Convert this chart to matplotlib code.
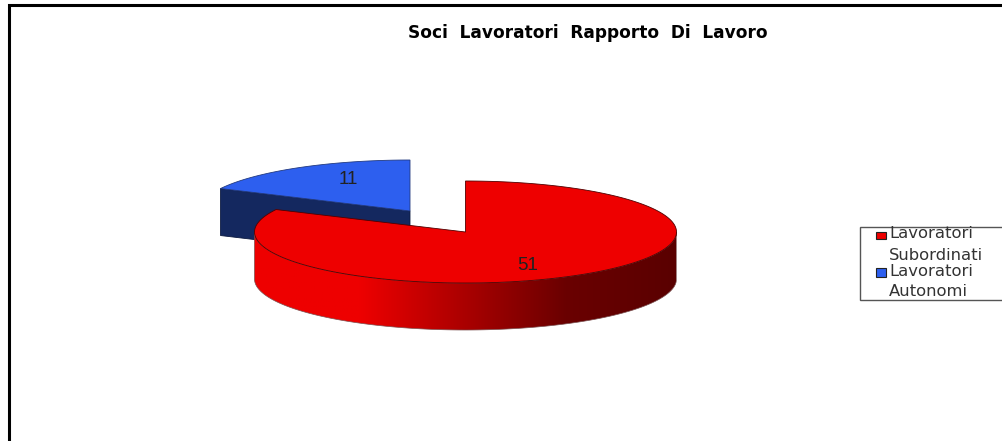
from matplotlib import pyplot as plt
from matplotlib.colors import LinearSegmentedColormap
from matplotlib.patches import Polygon, Rectangle
import numpy as np

categories = ['Lavoratori\nSubordinati', 'Lavoratori\nAutonomi']
values = [51, 11]
title = 'Soci  Lavoratori  Rapporto  Di  Lavoro'

RX, RY, DEPTH = 211, 51, 47
RED_CENTER = (465.5, 232)
BLUE_CENTER = (410, 211)


def rim(center, a0, a1, dy=0):
    # angles run clockwise from 12 o'clock, like the original chart
    t = np.radians(np.linspace(a0, a1, 200))
    return np.column_stack([center[0] + RX * np.sin(t), center[1] - RY * np.cos(t) + dy])


fig = plt.figure(figsize=(10.02, 4.41), dpi=100)
ax = fig.add_axes([0, 0, 1, 1])
ax.axis('off')

split = 360 * values[0] / sum(values)

# blue slice, pulled out to the upper left
tip = rim(BLUE_CENTER, split, split + 0.01)[0]
side = [tip, BLUE_CENTER, (BLUE_CENTER[0], BLUE_CENTER[1] + DEPTH), (tip[0], tip[1] + DEPTH)]
ax.add_patch(Polygon(side, closed=True, fc='#14285f', ec='#0c1a40', lw=0.6, zorder=1))
top = np.vstack([rim(BLUE_CENTER, split, 360), [BLUE_CENTER]])
ax.add_patch(Polygon(top, closed=True, fc='#2d5fef', ec='#223a80', lw=0.6, zorder=2))

# red slice: outer wall has a left to right gradient
front = rim(RED_CENTER, 90, 270)
wall = np.vstack([front, rim(RED_CENTER, 270, 90, DEPTH)])
wall_patch = Polygon(wall, closed=True, fc='none', ec='#7a5050', lw=0.5, zorder=4)
ax.add_patch(wall_patch)
cmap = LinearSegmentedColormap.from_list('wall', [(0, '#ee0000'), (0.25, '#ee0000'), (0.5, '#aa0000'),
                                                  (0.74, '#6a0000'), (1, '#5a0000')])
img = ax.imshow(np.linspace(0, 1, 256).reshape(1, -1), cmap=cmap, aspect='auto',
                extent=(RED_CENTER[0] - RX, RED_CENTER[0] + RX, 400, 200), zorder=3)
img.set_clip_path(wall_patch)
top = np.vstack([rim(RED_CENTER, 0, split), [RED_CENTER]])
ax.add_patch(Polygon(top, closed=True, fc='#ee0000', ec='#500000', lw=0.6, zorder=5))

ax.text(348, 179, str(values[1]), ha='center', va='center', fontsize=13.5, family='Liberation Sans', color='#222222', zorder=6)
ax.text(528, 265, str(values[0]), ha='center', va='center', fontsize=13.5, family='Liberation Sans', color='#222222', zorder=6)

ax.text(588, 33, title, ha='center', va='center', fontsize=12.25, family='DejaVu Sans', fontweight='bold', color='black')

# frame of the chart, cut by the right and bottom edges
ax.plot([9.5, 9.5, 1002], [441, 5, 5], color='black', lw=2.2, solid_joinstyle='miter', zorder=7)

# legend
ax.add_patch(Rectangle((860.5, 226.5), 150, 73, fc='white', ec='#555555', lw=1, zorder=7))
ax.add_patch(Rectangle((876.5, 231.5), 10, 7, fc='#ee0000', ec='#222222', lw=0.8, zorder=8))
ax.add_patch(Rectangle((876.5, 267.5), 10, 9, fc='#2d5fef', ec='#222222', lw=0.8, zorder=8))
for name, y in zip(categories, (244.5, 281.5)):
    ax.text(889, y, name, ha='left', va='center', fontsize=11.8, family='DejaVu Sans',
            color='#333333', linespacing=1.5, zorder=8)

ax.set_xlim(0, 1002)
ax.set_ylim(441, 0)
fig.savefig('out.png', dpi=100)
